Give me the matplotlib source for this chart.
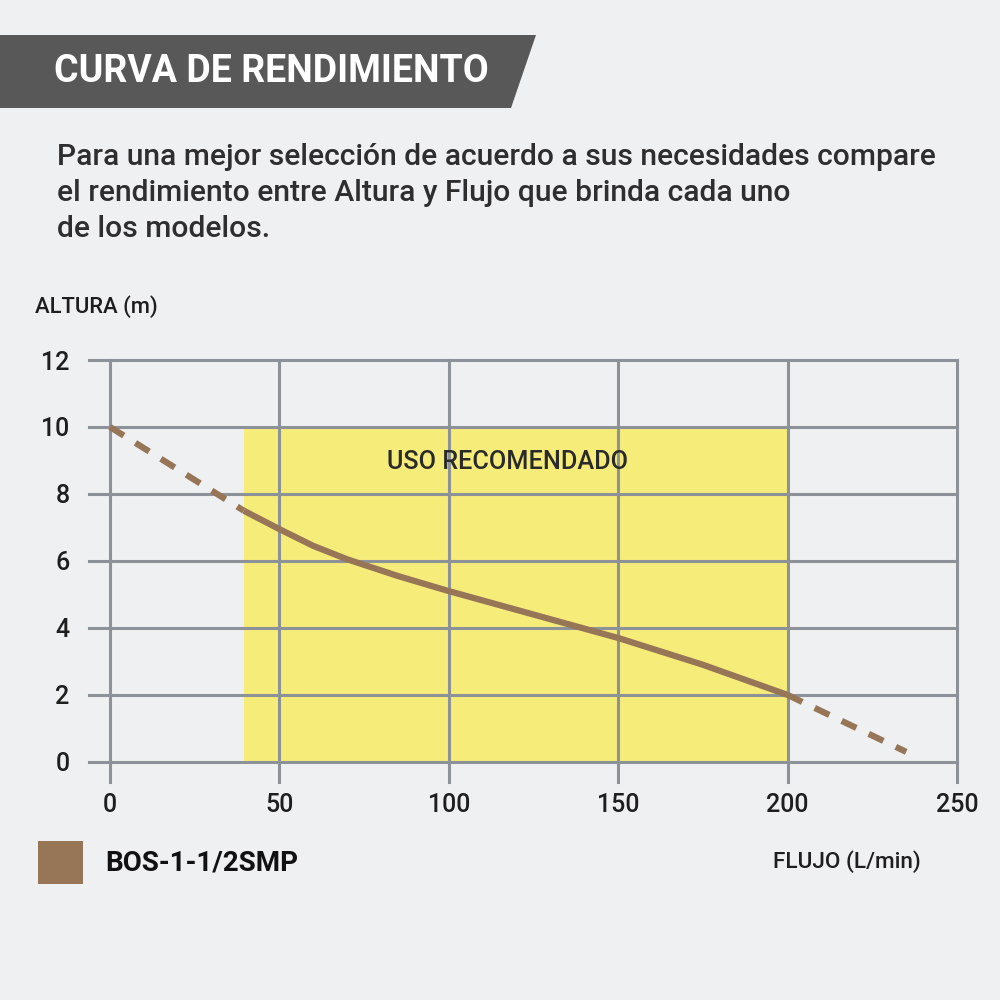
import matplotlib
matplotlib.use("Agg")
import matplotlib.pyplot as plt
from matplotlib.patches import Polygon, Rectangle

# ---- data ----
flow_dashed_left = [0, 39.5]
head_dashed_left = [10, 7.5]
flow_solid = [39.5, 50, 60, 70, 85, 100, 125, 150, 175, 200]
head_solid = [7.5, 6.95, 6.45, 6.05, 5.55, 5.1, 4.4, 3.7, 2.9, 2.0]
flow_dashed_right = [200, 235]
head_dashed_right = [2.0, 0.3]
recommended_flow = [39.5, 200]
recommended_head = [0, 10]
x_ticks = [0, 50, 100, 150, 200, 250]
y_ticks = [0, 2, 4, 6, 8, 10, 12]
model_name = "BOS-1-1/2SMP"

BG = "#eff0f2"
GRID = "#8d9299"
BROWN = "#977657"
YELLOW = "#f6ec7a"
TXT = "#1e1e1e"
FONT = ["Roboto", "DejaVu Sans"]

fig = plt.figure(figsize=(10, 10), dpi=100, facecolor=BG)

# header band
fig.patches.append(Polygon([(0, 0.965), (0.536, 0.965), (0.511, 0.892), (0, 0.892)],
                           closed=True, transform=fig.transFigure, facecolor="#585858",
                           edgecolor="none"))
fig.text(0.054, 0.9285, "CURVA DE RENDIMIENTO", color="white", fontsize=27,
         fontweight="bold", family=FONT, va="center", ha="left")

sub = ["Para una mejor selección de acuerdo a sus necesidades compare",
       "el rendimiento entre Altura y Flujo que brinda cada uno",
       "de los modelos."]
for i, line in enumerate(sub):
    fig.text(0.057, 1 - (0.165 + 0.036 * i), line, color="#2e2e2e", fontsize=21.6,
             fontweight="medium", family=FONT, va="baseline", ha="left")

ax = fig.add_axes([0.089, 0.218, 0.868, 0.422])
ax.set_facecolor(BG)
ax.set_xlim(-6.2, 250)
ax.set_ylim(-0.6, 12)
for s in ax.spines.values():
    s.set_visible(False)

ax.add_patch(Rectangle((recommended_flow[0], recommended_head[0]),
                       recommended_flow[1] - recommended_flow[0],
                       recommended_head[1] - recommended_head[0],
                       facecolor=YELLOW, edgecolor="none", zorder=1))

for t in y_ticks:
    ax.axhline(t, color=GRID, lw=2.2, zorder=2, clip_on=False)
for t in x_ticks:
    ax.axvline(t, color=GRID, lw=2.2, zorder=2, clip_on=False)

ax.plot(flow_dashed_left, head_dashed_left, color=BROWN, lw=4.5, dashes=(2.6, 2.2),
        dash_capstyle="butt", zorder=3)
ax.plot(flow_solid, head_solid, color=BROWN, lw=4.5, zorder=3, solid_capstyle="butt")
ax.plot(flow_dashed_right, head_dashed_right, color=BROWN, lw=4.5, dashes=(2.6, 2.2),
        dash_capstyle="butt", zorder=3)

ax.text(sum(recommended_flow) / 2 - 2.3, 8.95, "USO RECOMENDADO", color="#2a2a2a",
        fontsize=18.2, fontweight="medium", family=FONT, ha="center", va="center",
        zorder=4)

ax.set_xticks(x_ticks)
ax.set_yticks(y_ticks)
ax.tick_params(length=0, labelsize=18, colors=TXT)
ax.tick_params(axis="y", pad=14)
ax.tick_params(axis="x", pad=8)
for lab in ax.get_xticklabels() + ax.get_yticklabels():
    lab.set_family(FONT)
    lab.set_fontweight("medium")

fig.text(0.035, 0.693, "ALTURA (m)", fontsize=15.8, fontweight="medium", family=FONT,
         color=TXT, ha="left", va="center")
fig.text(0.773, 0.138, "FLUJO (L/min)", fontsize=16.2, fontweight="medium", family=FONT,
         color=TXT, ha="left", va="center")

fig.patches.append(Rectangle((0.038, 0.116), 0.045, 0.043, transform=fig.transFigure,
                             facecolor=BROWN, edgecolor="none"))
fig.text(0.105, 0.137, model_name, fontsize=20, fontweight="bold", family=FONT,
         color="#111111", ha="left", va="center")

fig.savefig("out.png", dpi=100, facecolor=BG)
